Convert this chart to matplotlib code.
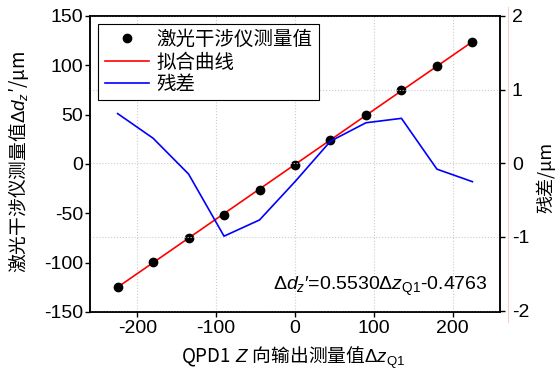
import numpy as np
import matplotlib
matplotlib.use("Agg")
import matplotlib.pyplot as plt
from matplotlib.lines import Line2D

plt.rcParams['font.family'] = ['Liberation Sans', 'Noto Sans CJK SC']
plt.rcParams['axes.unicode_minus'] = False
plt.rcParams['mathtext.fontset'] = 'custom'
plt.rcParams['mathtext.rm'] = 'Liberation Sans'
plt.rcParams['mathtext.it'] = 'Liberation Sans:italic'
plt.rcParams['mathtext.bf'] = 'Liberation Sans:bold'

# data
qpd_z = [-225, -180, -135, -90, -45, 0, 45, 90, 135, 180, 225]
laser_dz = [-124.23, -99.68, -75.28, -51.24, -26.13, -0.73,
            24.71, 49.84, 74.79, 98.98, 123.70]
fit_k = 0.5530
fit_b = -0.4763
residual = [0.675, 0.34, -0.146, -0.99, -0.77, -0.25,
            0.30, 0.55, 0.61, -0.08, -0.25]

x_ticks = [-200, -100, 0, 100, 200]
y_ticks = [-150, -100, -50, 0, 50, 100, 150]
r_ticks = [-2, -1, 0, 1, 2]

FS = 14
CJK = 'Noto Sans CJK SC'

x = np.array(qpd_z)
fit = fit_k * x + fit_b

fig = plt.figure(figsize=(5.58, 3.71), dpi=100)
ax = fig.add_axes([90/558, 1-312/371, 410/558, 296/371])
ax2 = ax.twinx()

ax.plot(x, fit, color='red', lw=1.2, zorder=2)
ax.plot(x, laser_dz, 'o', color='black', ms=6, zorder=3)
ax2.plot(x, residual, color='blue', lw=1.2)

ax.set_xlim(-260, 260)
ax.set_ylim(-150, 150)
ax2.set_ylim(-2.02, 2.0)
ax.set_xticks(x_ticks)
ax.set_yticks(y_ticks)
ax2.set_yticks(r_ticks)

ax.grid(axis='x', linestyle=':', color='#cccccc', lw=0.8)
ax2.grid(axis='y', linestyle=':', color='#cccccc', lw=0.8)

for a in (ax, ax2):
    for s in a.spines.values():
        s.set_linewidth(1.1)
    a.tick_params(labelsize=FS, length=3.5, width=1.0, direction='out')
ax.tick_params(axis='y', pad=1.5)
ax.tick_params(axis='x', pad=2.5)
ax2.tick_params(axis='y', pad=5)

ax.set_xlabel(r'QPD1$\ Z\ $向输出测量值$\Delta z_{\mathrm{Q1}}$', fontsize=13.5, family=CJK)
ax.xaxis.set_label_coords(0.495, -0.112)
ax.set_ylabel(r"激光干涉仪测量值$\Delta d_z$′/μm", fontsize=13.5, family=CJK)
ax.yaxis.set_label_coords(-0.143, 0.507)
ax2.set_ylabel('残差/μm', fontsize=13, family=CJK)
ax2.yaxis.set_label_coords(1.088, 0.456)

ax.text(0.971, 0.085, r"$\Delta d_z$′=0.5530$\Delta z_{\mathrm{Q1}}$-0.4763",
        transform=ax.transAxes, ha='right', va='center', fontsize=FS)

handles = [
    Line2D([], [], marker='o', color='black', ls='none', ms=6),
    Line2D([], [], color='red', lw=1.2),
    Line2D([], [], color='blue', lw=1.2),
]
labels = ['激光干涉仪测量值', '拟合曲线', '残差']
leg = ax2.legend(handles, labels, loc='upper left', fontsize=14,
                 fancybox=False, framealpha=1, edgecolor='black',
                 borderaxespad=0.4, labelspacing=0.22, handlelength=2.3,
                 handletextpad=0.35, borderpad=0.35, numpoints=1)
leg.get_frame().set_linewidth(0.8)

# light pink line to the right of the frame
fig.add_artist(Line2D([508/558, 508/558], [1-322/371, 1-7/371],
                      transform=fig.transFigure, color='#ffcccc', lw=0.8))

fig.savefig('out.png', dpi=100)
